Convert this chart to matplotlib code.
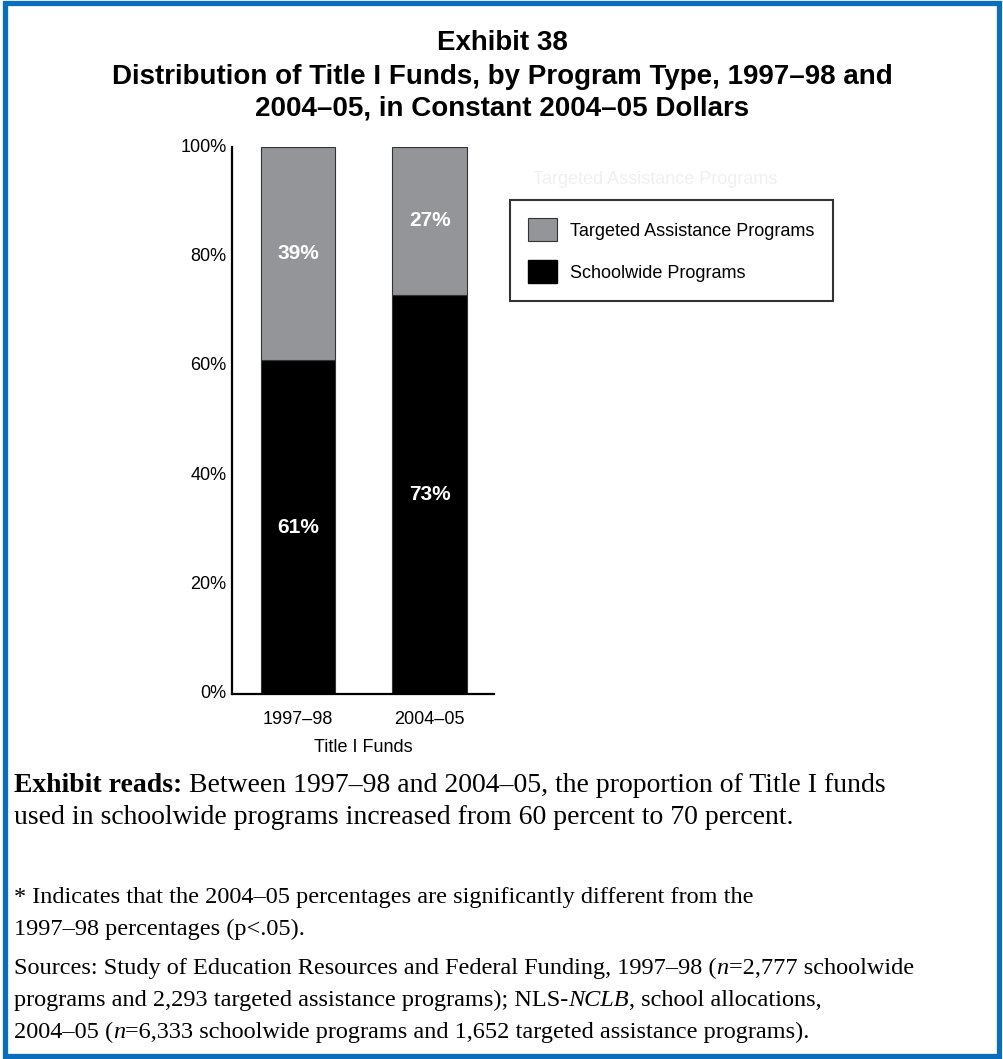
import matplotlib
matplotlib.use('Agg')
import matplotlib.pyplot as plt
from matplotlib.patches import Rectangle, Patch

# data
years = ['1997–98', '2004–05']
schoolwide = [61, 73]
targeted = [39, 27]
series_names = ['Targeted Assistance Programs', 'Schoolwide Programs']

SANS = 'Liberation Sans'
SERIF = 'Liberation Serif'
GRAY = '#939598'
BLUE = '#0a6ebd'

plt.rcParams['font.family'] = SANS

fig = plt.figure(figsize=(10.04, 10.59), dpi=100)
W, H = 1004, 1059


def fx(px):
    return px / W


def fy(py):
    return 1 - py / H


# blue frame round the whole exhibit
fig.patches.append(Rectangle((fx(5), fy(1056)), fx(999) - fx(5), fy(3) - fy(1056),
                             transform=fig.transFigure, fill=False,
                             edgecolor=BLUE, linewidth=3.8))

# title
for txt, yy in [('Exhibit 38', 43),
                ('Distribution of Title I Funds, by Program Type, 1997–98 and', 77),
                ('2004–05, in Constant 2004–05 Dollars', 108)]:
    fig.text(0.5, fy(yy), txt, ha='center', va='center',
             fontsize=20, fontweight='bold')

# chart
ax = fig.add_axes([fx(232), fy(694), fx(494) - fx(232), fy(147) - fy(694)])
x = [0, 1]
bw = 0.565
ax.bar(x, schoolwide, width=bw, color='black', edgecolor='#333333', linewidth=0.8)
ax.bar(x, targeted, width=bw, bottom=schoolwide, color=GRAY,
       edgecolor='#333333', linewidth=0.8)

for i in range(len(years)):
    ax.text(x[i], schoolwide[i] / 2, f'{schoolwide[i]}%', ha='center',
            va='center', color='white', fontsize=15, fontweight='bold')
    ax.text(x[i], schoolwide[i] + targeted[i] / 2, f'{targeted[i]}%',
            ha='center', va='center', color='white', fontsize=15,
            fontweight='bold')

ax.set_xlim(-0.504, 1.49)
ax.set_ylim(0, 100)
ax.set_yticks([0, 20, 40, 60, 80, 100])
ax.set_yticklabels([f'{v}%' for v in [0, 20, 40, 60, 80, 100]])
ax.set_xticks(x)
ax.set_xticklabels(years)
ax.tick_params(length=0, labelsize=13, pad=4)
ax.tick_params(axis='x', pad=12)
for lab in ax.get_yticklabels():
    lab.set_verticalalignment('center')
ax.set_xlabel('Title I Funds', fontsize=13, labelpad=8)
for s in ['top', 'right']:
    ax.spines[s].set_visible(False)
for s in ['left', 'bottom']:
    ax.spines[s].set_linewidth(1.6)
ax.patch.set_alpha(0)

# faint leftover label above the legend
fig.text(fx(533), fy(180), series_names[0], fontsize=13, color='#f0f0f0',
         va='center', ha='left')

handles = [Patch(facecolor=GRAY, edgecolor='#333333', linewidth=0.8),
           Patch(facecolor='black', edgecolor='black')]
leg = fig.legend(handles, series_names, loc='upper left',
                 bbox_to_anchor=(fx(510), fy(200)), frameon=True,
                 fancybox=False, fontsize=13, handlelength=1.6,
                 handleheight=1.6, handletextpad=0.75, labelspacing=1.05,
                 borderpad=1.0, borderaxespad=0)
leg.get_frame().set_edgecolor('black')
leg.get_frame().set_linewidth(1.5)

# notes under the chart, drawn run by run so bold and italic pieces line up
renderer = fig.canvas.get_renderer()


def text_line(x0, y0, runs, size):
    cur = fx(x0)
    for txt, weight, style in runs:
        t = fig.text(cur, fy(y0), txt, fontsize=size, family=SERIF,
                     fontweight=weight, fontstyle=style, va='center', ha='left')
        bb = t.get_window_extent(renderer)
        cur += bb.width / W


N = ('normal', 'normal')
B = ('bold', 'normal')
I = ('normal', 'italic')

text_line(14, 786, [('Exhibit reads: ', *B),
                    ('Between 1997–98 and 2004–05, the proportion of Title I funds', *N)], 20)
text_line(14, 818, [('used in schoolwide programs increased from 60 percent to 70 percent.', *N)], 20)
text_line(14, 897, [('* Indicates that the 2004–05 percentages are significantly different from the', *N)], 17.5)
text_line(14, 929, [('1997–98 percentages (p<.05).', *N)], 17.5)
text_line(14, 968, [('Sources: Study of Education Resources and Federal Funding, 1997–98 (', *N),
                    ('n', *I), ('=2,777 schoolwide', *N)], 17.5)
text_line(14, 1000, [('programs and 2,293 targeted assistance programs); NLS-', *N),
                     ('NCLB', *I), (', school allocations,', *N)], 17.5)
text_line(14, 1032, [('2004–05 (', *N), ('n', *I),
                     ('=6,333 schoolwide programs and 1,652 targeted assistance programs).', *N)], 17.5)

fig.savefig('out.png', dpi=100)
